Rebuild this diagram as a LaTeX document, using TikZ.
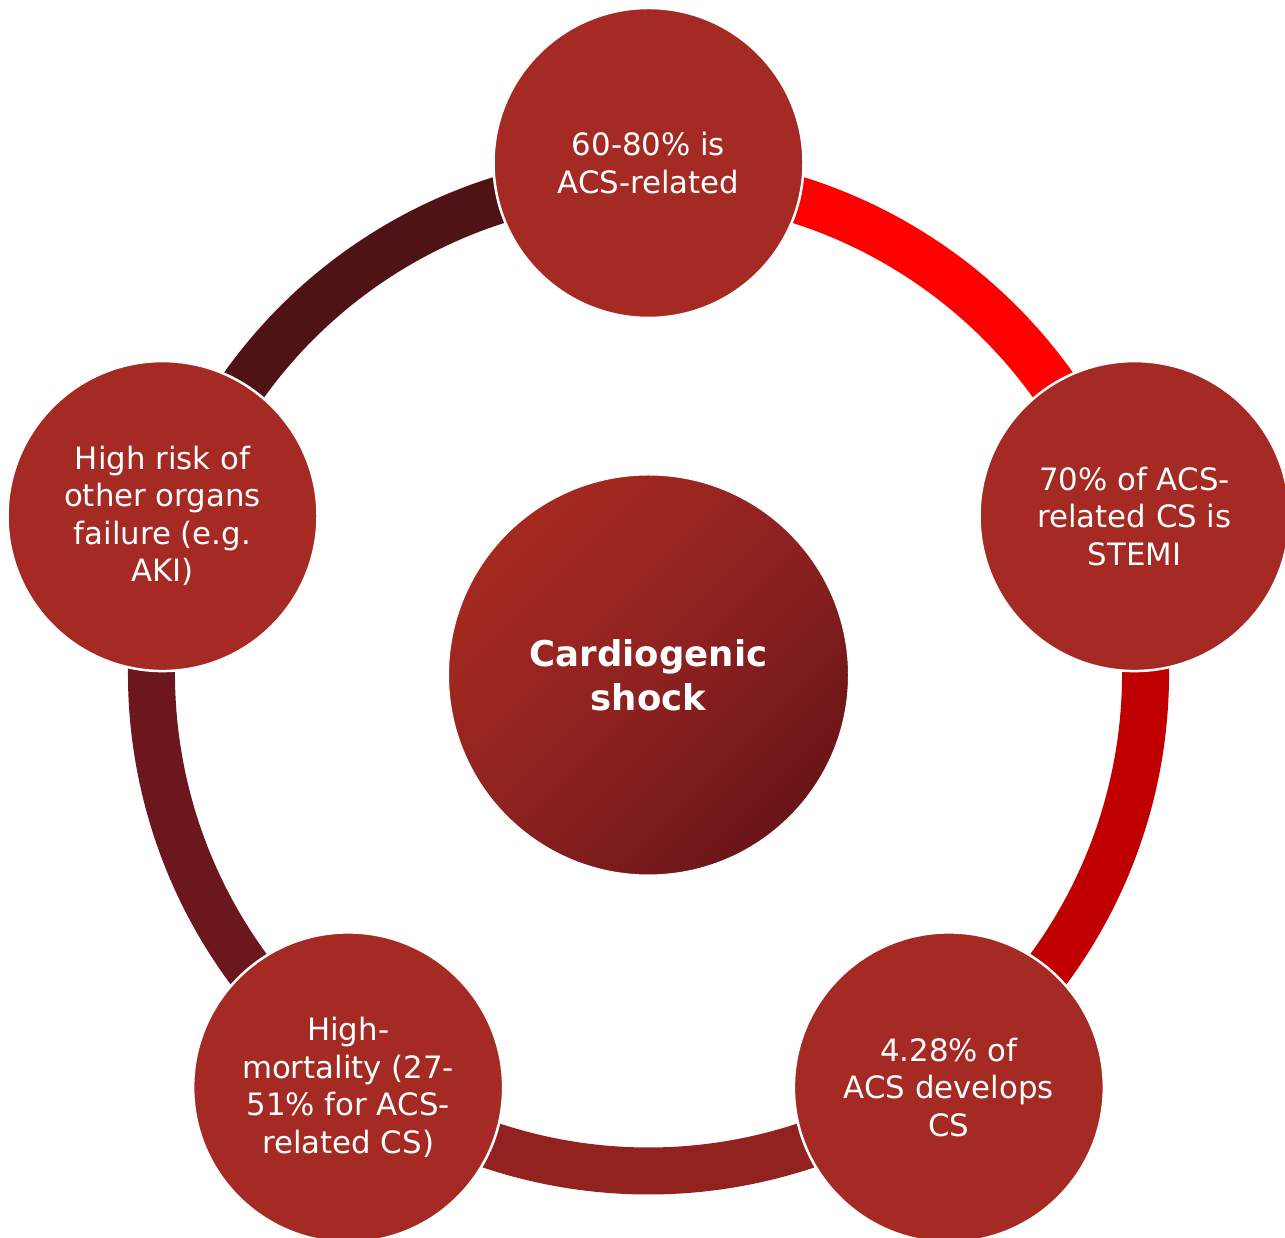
\documentclass[tikz,border=0pt]{standalone}
\usepackage{fontspec}
\setmainfont{DejaVu Sans}
\usetikzlibrary{calc}
\definecolor{nodefill}{HTML}{A52A24}
\definecolor{arcTR}{HTML}{FF0000}
\definecolor{arcR}{HTML}{C00000}
\definecolor{arcB}{HTML}{922220}
\definecolor{arcL}{HTML}{6B171D}
\definecolor{arcTL}{HTML}{4F1215}
\definecolor{ctrA}{HTML}{A5291F}
\definecolor{ctrB}{HTML}{8E2220}
\definecolor{ctrC}{HTML}{6A1518}
\tikzset{
  ring/.style={line width=47pt},
  satnode/.style={circle, fill=nodefill, draw=white, line width=2.5pt,
    minimum size=310pt, inner sep=0pt, align=center, text=white,
    font=\fontsize{30.8}{37.5}\selectfont},
  hubnode/.style={circle, draw=white, line width=1pt, minimum size=400pt, inner sep=0pt,
    align=center, text=white, top color=ctrA, bottom color=ctrC, middle color=ctrB,
    shading angle=45, font=\fontsize{35.5}{44}\bfseries\selectfont}
}
\begin{document}
\begin{tikzpicture}[x=1pt,y=1pt]
\useasboundingbox (0,0) rectangle (1285,1238);
\coordinate (C) at (648.5,564);
% arcs (drawn under the circles)
\draw[ring, arcTR] (C) ++(90:497) arc[start angle=90, end angle=18, radius=497];
\draw[ring, arcR] (C) ++(18:497) arc[start angle=18, end angle=-54, radius=497];
\draw[ring, arcB] (C) ++(-54:497) arc[start angle=-54, end angle=-126, radius=497];
\draw[ring, arcL] (C) ++(-126:497) arc[start angle=-126, end angle=-198, radius=497];
\draw[ring, arcTL] (C) ++(162:497) arc[start angle=162, end angle=90, radius=497];
% satellite circles
\node[satnode] (top) at ($(C)+(90:511)$) {60-80\% is\\ACS-related};
\node[satnode] (right) at ($(C)+(18:511)$) {70\% of ACS-\\related CS is\\STEMI};
\node[satnode] (bright) at ($(C)+(-54:511)$) {4.28\% of\\ACS develops\\CS};
\node[satnode] (bleft) at ($(C)+(-126:511)$) {High-\\mortality (27-\\51\% for ACS-\\related CS)};
\node[satnode] (left) at ($(C)+(162:511)$) {High risk of\\other organs\\failure (e.g.\\AKI)};
% hub
\node[hubnode] (hub) at (648.5,563) {Cardiogenic\\shock};
\end{tikzpicture}
\end{document}
